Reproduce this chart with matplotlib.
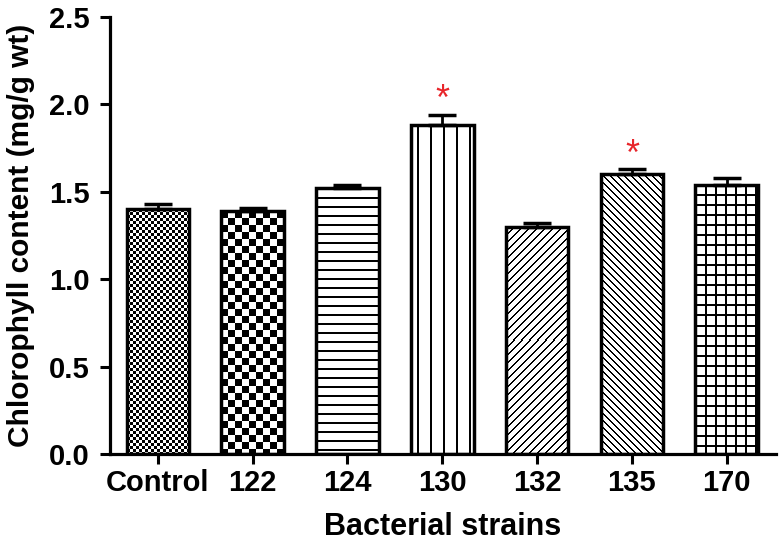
"""
Chlorophyll content by bacterial strain - bar chart with patterned fills
"""
import numpy as np
import matplotlib
matplotlib.use('Agg')
import matplotlib.pyplot as plt

plt.rcParams['font.family'] = ['Liberation Sans', 'DejaVu Sans']
plt.rcParams['font.weight'] = 'bold'

# data
strains = ['Control', '122', '124', '130', '132', '135', '170']
chlorophyll = [1.40, 1.39, 1.52, 1.88, 1.30, 1.60, 1.54]
errors = [0.03, 0.02, 0.02, 0.06, 0.02, 0.03, 0.04]
significant = [False, False, False, True, False, True, False]
yticks = [0.0, 0.5, 1.0, 1.5, 2.0, 2.5]


# fill patterns, indexed by pixel (row, col); True = black
def pat_fine_check(r, c):
    return ((r // 3) + (c // 3)) % 2 == 0

def pat_coarse_check(r, c):
    return ((r // 7) + (c // 7)) % 2 == 0

def pat_hlines(r, c):
    return (r % 9) < 2

def pat_vlines(r, c):
    return ((c - 6) % 13) < 2

def pat_fwd(r, c):
    return ((r + c) % 8) < 2

def pat_back(r, c):
    return ((c - r) % 7) < 2

def pat_grid(r, c):
    return ((r % 10) < 2) | ((c % 10) < 2)

patterns = [pat_fine_check, pat_coarse_check, pat_hlines, pat_vlines,
            pat_fwd, pat_back, pat_grid]

W, H, DPI = 783, 543, 100
fig = plt.figure(figsize=(W / DPI, H / DPI), dpi=DPI)
ax = fig.add_axes([110 / W, (H - 454) / H, (776 - 110) / W, (454 - 17) / H])

x = np.arange(len(strains))
width = 0.66
ax.set_xlim(-0.505, 6.52)
ax.set_ylim(0, 2.5)

bars = ax.bar(x, chlorophyll, width, facecolor='none', edgecolor='black',
              linewidth=2.5, zorder=3)

# patterned fill rendered at screen resolution, clipped to each bar
for bar, pat in zip(bars, patterns):
    x0, y0 = bar.get_x(), bar.get_y()
    x1, y1 = x0 + bar.get_width(), y0 + bar.get_height()
    (px0, py0), (px1, py1) = ax.transData.transform([(x0, y0), (x1, y1)])
    nc = max(int(round(px1 - px0)), 1)
    nr = max(int(round(py1 - py0)), 1)
    rr, cc = np.mgrid[0:nr, 0:nc]
    img = np.where(pat(rr, cc), 0.0, 1.0)
    im = ax.imshow(img, cmap='gray', vmin=0, vmax=1, extent=(x0, x1, y0, y1),
                   aspect='auto', interpolation='nearest', origin='upper',
                   zorder=2)
    im.set_clip_path(bar)

# upper error bars only
ax.errorbar(x, chlorophyll, yerr=[np.zeros(len(x)), errors], fmt='none',
            ecolor='black', elinewidth=2, capsize=10, capthick=2.5, zorder=4)

# significance markers
for xi, v, e, s in zip(x, chlorophyll, errors, significant):
    if s:
        ax.text(xi, v + e + 0.08, '*', color='#e8262b', fontsize=26,
                ha='center', va='center', fontweight='normal')

ax.set_xticks(x)
ax.set_xticklabels(strains)
ax.set_yticks(yticks)
ax.set_yticklabels([f'{t:.1f}' for t in yticks])
ax.tick_params(axis='both', labelsize=21, width=2.2, length=7.5,
               direction='out', pad=3)
ax.tick_params(axis='y', pad=7)

for side in ['top', 'right']:
    ax.spines[side].set_visible(False)
for side in ['left', 'bottom']:
    ax.spines[side].set_linewidth(2.3)

ax.set_xlabel('Bacterial strains', fontsize=22, fontweight='bold', labelpad=11)
ax.set_ylabel('Chlorophyll content (mg/g wt)', fontsize=21.5,
              fontweight='bold', labelpad=10)

fig.savefig('out.png', dpi=DPI)
